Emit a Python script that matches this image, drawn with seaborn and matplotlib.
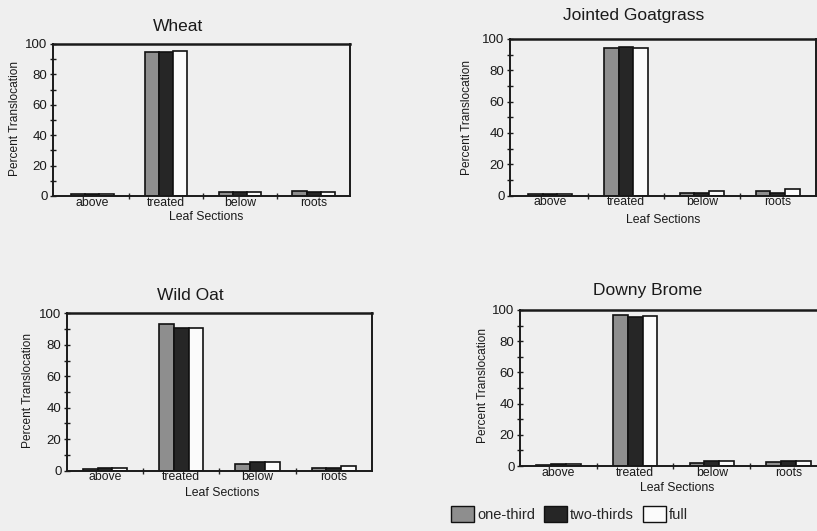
import matplotlib
matplotlib.use("Agg")
import matplotlib.pyplot as plt
from matplotlib.patches import Patch
from matplotlib.ticker import MultipleLocator, FixedLocator
import pandas as pd
import seaborn as sns

# Values (percent translocation)
sections = ["above", "treated", "below", "roots"]
stages = ["one-third", "two-thirds", "full"]

wheat_one = [1.5, 95, 2.5, 3]
wheat_two = [1.5, 95, 2.5, 2.5]
wheat_full = [1.5, 95.5, 2.5, 2.5]

goat_one = [1, 94, 2, 3]
goat_two = [1, 95, 2, 2]
goat_full = [1, 94, 3, 4]

oat_one = [1, 93, 4, 2]
oat_two = [1.5, 91, 5.5, 2]
oat_full = [2, 91, 5.5, 3]

brome_one = [0.5, 97, 2, 2.5]
brome_two = [1.5, 95.5, 3.5, 3]
brome_full = [1, 96, 3.5, 3]

titles = ["Wheat", "Jointed Goatgrass", "Wild Oat", "Downy Brome"]
series = [
    (wheat_one, wheat_two, wheat_full),
    (goat_one, goat_two, goat_full),
    (oat_one, oat_two, oat_full),
    (brome_one, brome_two, brome_full),
]

# layout: axes rect, xlim, title xy, xlabel xy, ylabel xy (axes fractions)
layout = [
    dict(rect=[0.0649, 0.6309, 0.3635, 0.2863], xlim=(-0.53, 3.49),
         title=(0.42, 1.112), xlab=(0.515, -0.138), ylab=(-0.128, 0.513), right=True),
    dict(rect=[0.6242, 0.6315, 0.3740, 0.2951], xlim=(-0.53, 3.5),
         title=(0.405, 1.147), xlab=(0.50, -0.155), ylab=(-0.14, 0.496), right=True),
    dict(rect=[0.0820, 0.1136, 0.3733, 0.2962], xlim=(-0.5, 3.5),
         title=(0.403, 1.116), xlab=(0.508, -0.142), ylab=(-0.128, 0.508), right=True),
    dict(rect=[0.6365, 0.1224, 0.3635, 0.2938], xlim=(-0.5, 3.37),
         title=(0.428, 1.128), xlab=(0.529, -0.141), ylab=(-0.125, 0.519), right=False),
]

bg = "#efefef"
colors = ["#8e8e8e", "#262626", "#fbfbfb"]

sns.set_style("white")
plt.rcParams["font.family"] = ["Liberation Sans", "DejaVu Sans"]

fig = plt.figure(figsize=(8.17, 5.31), dpi=100, facecolor=bg)

for title, vals, lay in zip(titles, series, layout):
    df = pd.DataFrame({
        "section": sections * 3,
        "stage": [s for s in stages for _ in sections],
        "pct": list(vals[0]) + list(vals[1]) + list(vals[2]),
    })
    ax = fig.add_axes(lay["rect"])
    ax.set_facecolor(bg)
    sns.barplot(data=df, x="section", y="pct", hue="stage", order=sections,
                hue_order=stages, palette=colors, edgecolor="#111111",
                linewidth=1.2, width=0.58, saturation=1, legend=False, ax=ax)
    ax.set_ylim(0, 100)
    ax.set_xlim(*lay["xlim"])

    for side in ["left", "bottom", "top", "right"]:
        ax.spines[side].set_color("#1a1a1a")
        ax.spines[side].set_linewidth(1.4)
    ax.spines["top"].set_linewidth(1.8)
    if not lay["right"]:
        ax.spines["right"].set_visible(False)

    ax.yaxis.set_major_locator(MultipleLocator(20))
    ax.yaxis.set_minor_locator(MultipleLocator(10))
    ax.tick_params(axis="y", which="both", direction="inout", length=5,
                   width=1, left=True, labelsize=9.5, pad=1.5, colors="#1a1a1a")
    ax.xaxis.set_minor_locator(FixedLocator([0.5, 1.5, 2.5]))
    ax.tick_params(axis="x", which="major", length=0, labelsize=8.8, pad=0.5,
                   colors="#1a1a1a")
    ax.tick_params(axis="x", which="minor", direction="inout", length=5,
                   width=1, bottom=True)

    ax.set_xlabel("Leaf Sections", fontsize=8.8, color="#1a1a1a")
    ax.xaxis.set_label_coords(*lay["xlab"])
    ax.xaxis.label.set_va("center")
    ax.set_ylabel("Percent Translocation", fontsize=8.6, color="#1a1a1a")
    ax.yaxis.set_label_coords(*lay["ylab"])
    ax.yaxis.label.set_va("center")

    ax.text(lay["title"][0], lay["title"][1], title, transform=ax.transAxes,
            ha="center", va="center", fontsize=12.5, color="#1a1a1a")

handles = [Patch(facecolor=c, edgecolor="#111111", linewidth=1.0) for c in colors]
fig.legend(handles, stages, loc="lower left", bbox_to_anchor=(0.541, 0.0),
           ncol=3, frameon=False, fontsize=10.5, handlelength=1.6,
           handleheight=1.3, handletextpad=0.2, columnspacing=0.6,
           borderaxespad=0.2)

fig.savefig("out.png", dpi=100, facecolor=bg)
